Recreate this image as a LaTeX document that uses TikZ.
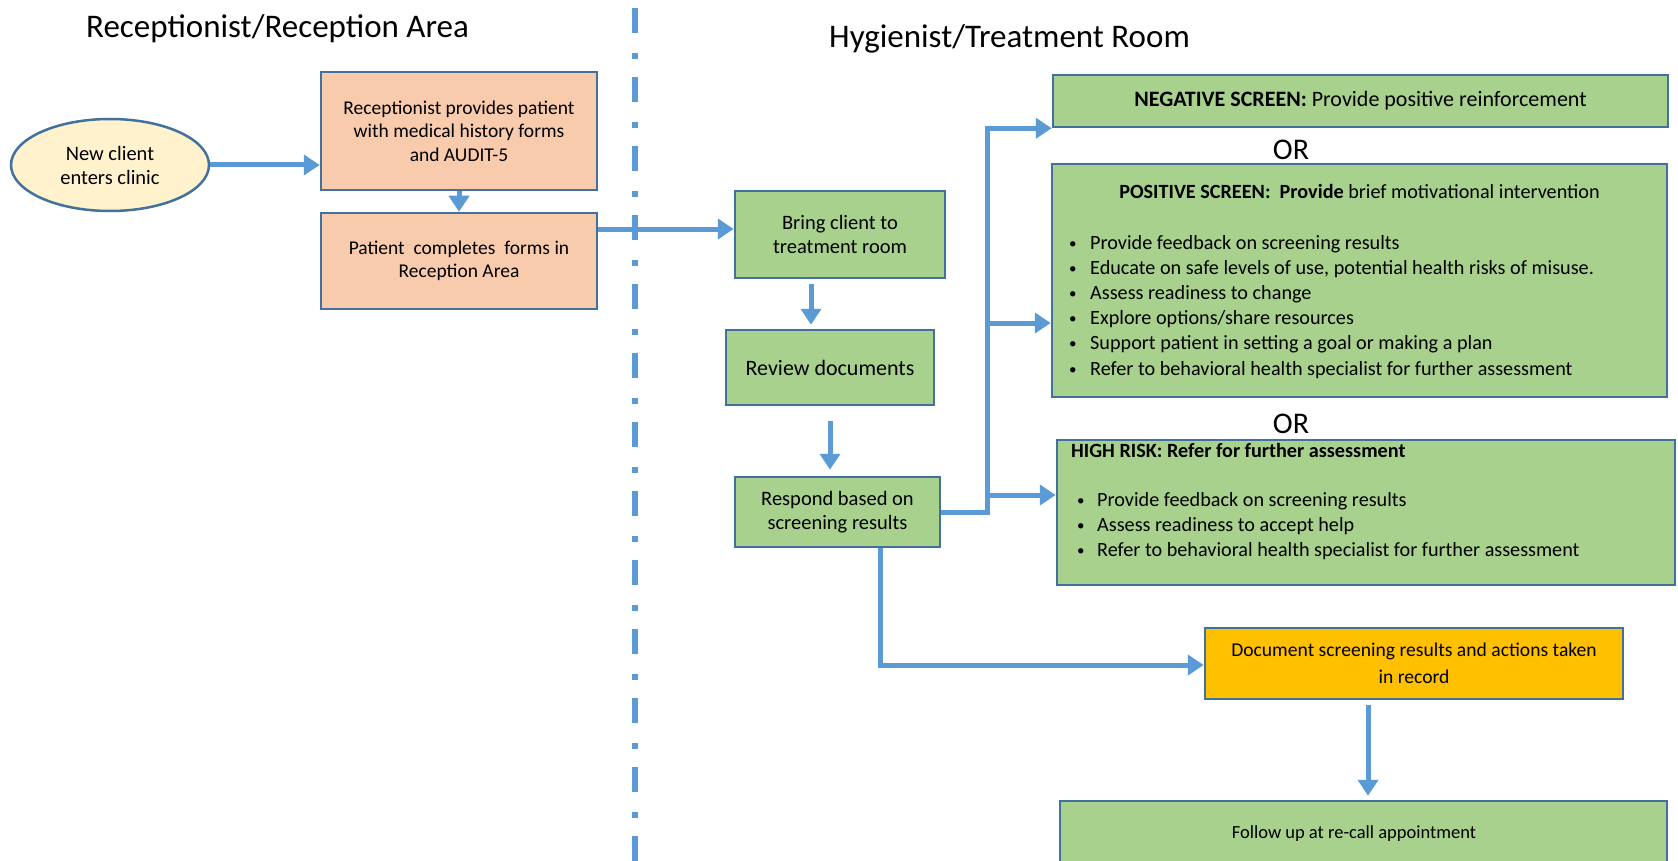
\documentclass[tikz,border=0pt]{standalone}
\usepackage{fontspec}
\setmainfont{Carlito}
\usetikzlibrary{arrows.meta,shapes.geometric}
\definecolor{abl}{HTML}{5B9BD5}
\definecolor{bdr}{HTML}{41719C}
\definecolor{peach}{HTML}{F8CBAD}
\definecolor{cream}{HTML}{FFF2CC}
\definecolor{grn}{HTML}{A9D18E}
\definecolor{amber}{HTML}{FFC000}
\newcommand\smallbul{\hspace{4pt}\raisebox{1pt}{\fontsize{15}{15}\selectfont\textbullet}}
\begin{document}
\begin{tikzpicture}[x=1pt,y=-1pt,
  box/.style={draw=bdr, line width=2.5pt, rectangle, inner sep=0pt, align=center},
  peachbox/.style={box, fill=peach, font=\fontsize{19.5}{23.5}\selectfont},
  greenbox/.style={box, fill=grn, font=\fontsize{20.5}{24}\selectfont},
  arr/.style={draw=abl, line width=5pt, -{Triangle[length=16pt,width=20pt]}},
  title/.style={anchor=base west, inner sep=0pt, font=\fontsize{33}{39}\selectfont},
  ortext/.style={inner sep=0pt, font=\fontsize{30}{36}\selectfont},
  bul/.style={anchor=base west, inner sep=0pt, font=\fontsize{20.2}{25}\selectfont}]
\clip (0,0) rectangle (1678,861);
\fill[white] (0,0) rectangle (1678,861);

% titles
\node[title] (t1) at (86,37.5) {Receptionist/Reception Area};
\node[title] (t2) at (829,48) {Hygienist/Treatment Room};

% dash-dot divider
\coordinate (dtop) at (635,8);
\coordinate (dbot) at (635,861);
\draw[abl, line width=6pt, dash pattern=on 25pt off 20pt on 6pt off 18pt] (dtop) -- (dbot);

% left side
\node[ellipse, draw=bdr, fill=cream, line width=2.5pt, minimum width=198pt, minimum height=92pt,
      inner sep=0pt, align=center, font=\fontsize{20.5}{24}\selectfont] (ell) at (110,165) {New client\\enters clinic};
\node[peachbox, minimum width=276pt, minimum height=118pt] (b1) at (459,131)
  {Receptionist provides patient\\with medical history forms\\and AUDIT-5};
\node[peachbox, minimum width=276pt, minimum height=96pt] (b2) at (459,261)
  {Patient~ completes~ forms in\\Reception Area};

% middle
\node[greenbox, minimum width=210pt, minimum height=87pt] (bring) at (840,234.5) {Bring client to\\treatment room};
\node[greenbox, minimum width=208pt, minimum height=75pt, font=\fontsize{22}{26}\selectfont] (review) at (830,367.5) {Review documents};
\node[greenbox, minimum width=205pt, minimum height=70pt] (respond) at (837.5,512) {Respond based on\\screening results};

% right
\node[box, fill=grn, minimum width=615pt, minimum height=52pt, font=\fontsize{22}{26}\selectfont] (neg) at (1360.5,101)
  {\textbf{NEGATIVE SCREEN:} Provide positive reinforcement};
\node[ortext] (or1) at (1291,150) {OR};
\node[box, fill=grn, minimum width=615pt, minimum height=233pt] (pos) at (1359.5,280.5) {};
\node[bul, anchor=base] (posh) at (1359.5,199) {\textbf{POSITIVE SCREEN:\ \ Provide} brief motivational intervention};
\foreach \t [count=\i] in {Provide feedback on screening results,
  {Educate on safe levels of use, potential health risks of misuse.},
  Assess readiness to change,
  Explore options/share resources,
  Support patient in setting a goal or making a plan,
  Refer to behavioral health specialist for further assessment}
  \node[bul] (pb\i) at (1065,{249+25.2*(\i-1)}) {\makebox[25pt][l]{\smallbul}\t};
\node[ortext] (or2) at (1291,424) {OR};
\node[box, fill=grn, minimum width=618pt, minimum height=145pt] (high) at (1366,512.5) {};
\node[bul] (hh) at (1071,457.5) {\textbf{HIGH RISK: Refer for further assessment}};
\foreach \t [count=\i] in {Provide feedback on screening results,
  Assess readiness to accept help,
  Refer to behavioral health specialist for further assessment}
  \node[bul] (hb\i) at (1073,{506+25*(\i-1)}) {\makebox[24pt][l]{\smallbul}\t};

\node[box, fill=amber, minimum width=418pt, minimum height=71pt, font=\fontsize{19.6}{27}\selectfont] (doc) at (1414,663.5)
  {Document screening results and actions taken\\in record};
\node[box, fill=grn, minimum width=607pt, minimum height=74pt] (follow) at (1363.5,838) {};
\node[inner sep=0pt, font=\fontsize{18.5}{22}\selectfont] (followt) at (1354,834) {Follow up at re-call appointment};

% connectors
\coordinate (yb) at (0,229);
\coordinate (xr) at (811,0);
\coordinate (xs) at (830,0);
\coordinate (j) at (987,512);
\coordinate (yp) at (0,323);
\coordinate (yh) at (0,495);
\coordinate (rb) at (880,665);
\coordinate (xd) at (1368,0);

\draw[arr] (ell.east) -- (b1.west |- ell.east);
\draw[arr] (b1.south) -- (b2.north);
\draw[arr] (b2.east |- yb) -- (bring.west |- yb);
\draw[arr, shorten <=5pt, shorten >=4pt] (bring.south -| xr) -- (review.north -| xr);
\draw[arr, shorten <=15pt, shorten >=6pt] (review.south -| xs) -- (respond.north -| xs);
\draw[arr] (respond.east |- j) -- (j) |- (neg.south west);
\draw[arr] (j |- yp) -- (pos.west |- yp);
\draw[arr] (j |- yh) -- (high.west |- yh);
\draw[arr] (respond.south -| rb) -- (rb) -- (doc.west |- rb);
\draw[arr, shorten <=5pt, shorten >=4pt] (doc.south -| xd) -- (follow.north -| xd);
\end{tikzpicture}
\end{document}
